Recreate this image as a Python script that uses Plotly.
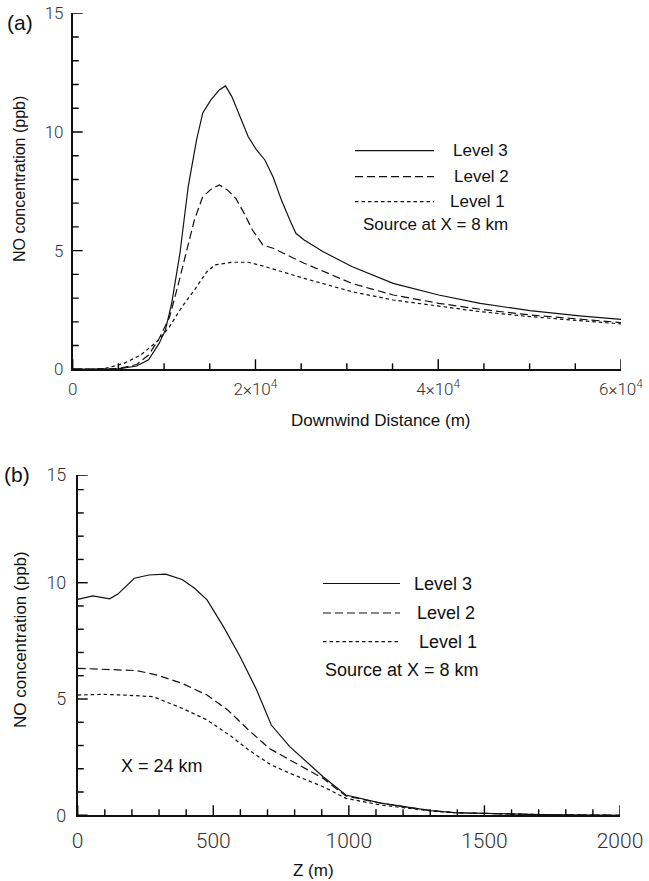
import plotly.graph_objects as go

# ---------------- Panel (a): NO concentration vs downwind distance ----------------
a_x_l3 = [0, 3000, 5000, 7000, 8300, 9470, 10150, 10830, 11740, 12640, 13550, 14230, 15130,
          16040, 16720, 17400, 18300, 19210, 20120, 21030, 21930, 22840, 23750, 24420, 25330,
          27370, 30540, 35070, 40050, 44590, 50030, 55470, 60000]
a_y_l3 = [0.0, 0.0, 0.02, 0.14, 0.4, 1.1, 1.66, 2.78, 4.9, 7.7, 9.66, 10.8, 11.35,
          11.77, 11.94, 11.5, 10.65, 9.8, 9.24, 8.82, 8.1, 7.13, 6.3, 5.73, 5.45,
          4.96, 4.33, 3.62, 3.13, 2.78, 2.47, 2.25, 2.1]

a_x_l2 = [0, 3000, 5000, 7000, 8300, 9470, 10600, 11500, 12400, 13320, 14230, 15130, 16040,
          16950, 17850, 18760, 19670, 20800, 21930, 25330, 30540, 35070, 40050, 44590,
          50030, 55470, 60000]
a_y_l2 = [0.0, 0.0, 0.03, 0.2, 0.6, 1.3, 2.2, 3.5, 4.9, 6.3, 7.27, 7.58, 7.77,
          7.55, 7.2, 6.57, 5.87, 5.24, 5.1, 4.47, 3.62, 3.13, 2.78, 2.53,
          2.29, 2.1, 1.97]

a_x_l1 = [0, 2000, 3580, 5620, 7430, 9240, 10600, 11970, 13320, 14680, 15580, 17400, 19210,
          21030, 25330, 30540, 35070, 40050, 44590, 50030, 55470, 60000]
a_y_l1 = [0.0, 0.0, 0.04, 0.25, 0.6, 1.17, 1.8, 2.64, 3.34, 4.11, 4.4, 4.51, 4.51,
          4.33, 3.83, 3.27, 2.92, 2.67, 2.43, 2.22, 2.04, 1.91]

a_xtick_vals = [0, 20000, 40000, 60000]
a_xtick_text = ["0", "2×10<sup>4</sup>", "4×10<sup>4</sup>", "6×10<sup>4</sup>"]
a_ytick_vals = [0, 5, 10, 15]
a_ytick_text = ["0", "5", "10", "15"]

# ---------------- Panel (b): NO concentration vs height ----------------
b_z_l3 = [0, 56, 118, 148, 209, 263, 324, 385, 431, 477, 538, 599, 660, 714, 782, 905,
          989, 1118, 1302, 1394, 1700, 2000]
b_y_l3 = [9.28, 9.43, 9.31, 9.51, 10.19, 10.33, 10.37, 10.14, 9.76, 9.26, 8.1, 6.82, 5.39,
          3.88, 2.95, 1.66, 0.87, 0.52, 0.2, 0.11, 0.03, 0.0]

b_z_l2 = [0, 95, 217, 293, 385, 477, 553, 630, 706, 782, 905, 989, 1118, 1302, 1394, 1700, 2000]
b_y_l2 = [6.32, 6.29, 6.22, 6.03, 5.67, 5.17, 4.53, 3.67, 2.88, 2.38, 1.59, 0.83, 0.52,
          0.2, 0.11, 0.03, 0.0]

b_z_l1 = [0, 95, 171, 278, 385, 477, 568, 630, 714, 782, 905, 989, 1118, 1302, 1394, 1700, 2000]
b_y_l1 = [5.17, 5.2, 5.17, 5.1, 4.6, 4.1, 3.38, 2.81, 2.16, 1.81, 1.23, 0.73, 0.44,
          0.19, 0.11, 0.03, 0.0]

b_xtick_vals = [0, 500, 1000, 1500, 2000]
b_xtick_text = ["0", "500", "1000", "1500", "2000"]
b_ytop = 14.63
b_ytick_vals = [0, 5, 10, b_ytop]
b_ytick_text = ["0", "5", "10", "15"]

series_names = ["Level 3", "Level 2", "Level 1"]

# minor tick steps
a_xminor, a_yminor, b_xminor, b_yminor = 5000, 1, 100, 1

# ---------------- figure ----------------
W, H = 649, 881
INK = "#111111"
dash_styles = ["solid", "8px,4px", "3.5px,3px"]

# plot-area geometry (pixels)
A_L, A_R, A_T, A_B = 72.7, 621, 13.3, 369.3
B_L, B_R, B_T, B_B = 77.7, 620, 475, 815.3

fig = go.Figure()
for xs, ys, name, d in [(a_x_l3, a_y_l3, series_names[0], dash_styles[0]),
                        (a_x_l2, a_y_l2, series_names[1], dash_styles[1]),
                        (a_x_l1, a_y_l1, series_names[2], dash_styles[2])]:
    fig.add_trace(go.Scatter(x=xs, y=ys, name=name, mode="lines",
                             line=dict(color=INK, width=1.2, dash=d),
                             xaxis="x", yaxis="y", cliponaxis=False))
for xs, ys, name, d in [(b_z_l3, b_y_l3, series_names[0], dash_styles[0]),
                        (b_z_l2, b_y_l2, series_names[1], dash_styles[1]),
                        (b_z_l1, b_y_l1, series_names[2], dash_styles[2])]:
    fig.add_trace(go.Scatter(x=xs, y=ys, name=name, mode="lines",
                             line=dict(color=INK, width=1.2, dash=d),
                             xaxis="x2", yaxis="y2", cliponaxis=False))

TICKFONT_A = dict(family="Roboto", size=17, color="#333", weight=300)
TICKFONT_B_Y = dict(family="Roboto", size=18, color="#333", weight=300)
TICKFONT_B_X = dict(family="Roboto", size=21, color="#333", weight=300)
LABFONT = "Liberation Sans, Arial, sans-serif"

def px(x):
    return x / W

def py(y):
    return 1 - y / H

common = dict(showline=True, linecolor=INK, linewidth=1.5, ticks="",
              showgrid=False, zeroline=False,
              tickmode="array", fixedrange=True, automargin=False)

fig.update_layout(
    template="none",
    width=W, height=H, showlegend=False, autosize=False,
    margin=dict(l=0, r=0, t=0, b=0, pad=0),
    paper_bgcolor="white", plot_bgcolor="white",
    xaxis=dict(domain=[px(A_L), px(A_R)], range=[0, 60000], anchor="y",
               tickvals=a_xtick_vals, ticktext=a_xtick_text, tickfont=TICKFONT_A,
               ticklabelstandoff=4, **common),
    yaxis=dict(domain=[py(A_B), py(A_T)], range=[0, 15], anchor="x",
               tickvals=a_ytick_vals, ticktext=a_ytick_text, tickfont=TICKFONT_A,
               ticklabelstandoff=4, **common),
    xaxis2=dict(domain=[px(B_L), px(B_R)], range=[0, 2000], anchor="y2",
                tickvals=b_xtick_vals, ticktext=b_xtick_text, tickfont=TICKFONT_B_X,
                ticklabelstandoff=6, **common),
    yaxis2=dict(domain=[py(B_B), py(B_T)], range=[0, b_ytop], anchor="x2",
                tickvals=b_ytick_vals, ticktext=b_ytick_text, tickfont=TICKFONT_B_Y,
                ticklabelstandoff=6, **common),
)

annotations = []
shapes = []
TICK_LINE = dict(color="black", width=1.4)

# ---- inward tick marks: data-scale position along the axis, paper-pixel length ----
def is_major(v, majors):
    return any(abs(v - m) < 1e-9 for m in majors)

def xticks(xref, majors, step, lo, hi, axis_px):
    n = int(round((hi - lo) / step))
    vals = [lo + i * step for i in range(n + 1)]
    vals += [m for m in majors if not is_major(m, vals)]
    for v in vals:
        ln = 10 if is_major(v, majors) else 6
        shapes.append(dict(type="line", xref=xref, yref="paper", x0=v, x1=v,
                           y0=py(axis_px), y1=py(axis_px - ln), line=TICK_LINE,
                           layer="above"))

def yticks(yref, majors, step, lo, hi, axis_px):
    n = int(round((hi - lo) / step))
    vals = [lo + i * step for i in range(n + 1)]
    vals += [m for m in majors if not is_major(m, vals)]
    for v in vals:
        ln = 10 if is_major(v, majors) else 6
        shapes.append(dict(type="line", xref="paper", yref=yref, x0=px(axis_px),
                           x1=px(axis_px + ln), y0=v, y1=v, line=TICK_LINE,
                           layer="above"))

xticks("x", a_xtick_vals, a_xminor, 0, 60000, A_B)
yticks("y", a_ytick_vals, a_yminor, 0, 15, A_L)
xticks("x2", b_xtick_vals, b_xminor, 0, 2000, B_B)
yticks("y2", b_ytick_vals, b_yminor, 0, 14, B_L)

def text(x, y, s, size, xanchor="left", angle=0, family=LABFONT):
    annotations.append(dict(x=px(x), y=py(y), xref="paper", yref="paper", text=s,
                            showarrow=False, xanchor=xanchor, yanchor="middle",
                            textangle=angle, font=dict(family=family, size=size, color=INK)))

def key(x0, x1, y, d):
    shapes.append(dict(type="line", xref="paper", yref="paper", x0=px(x0), x1=px(x1),
                       y0=py(y), y1=py(y), line=dict(color=INK, width=1.2, dash=d)))

# panel labels
text(5, 23, "(a)", 21)
text(2, 475, "(b)", 21)

# axis titles
text(20, 179, "NO concentration (ppb)", 16, xanchor="center", angle=-90)
text(20, 640, "NO concentration (ppb)", 17, xanchor="center", angle=-90)
text(381, 420, "Downwind Distance (m)", 17, xanchor="center")
text(313, 870, "Z (m)", 17, xanchor="center")

# legend panel (a)
for (yk, xt, nm, d) in [(150.7, 451, series_names[0], dash_styles[0]),
                        (176.7, 452, series_names[1], dash_styles[1]),
                        (201.7, 448, series_names[2], dash_styles[2])]:
    key(355, 434, yk, d)
    text(xt, yk, nm, 17)
text(361, 224, "Source at X = 8 km", 17)

# legend panel (b)
for (yk, xt, nm, d) in [(583.5, 412, series_names[0], dash_styles[0]),
                        (613, 415, series_names[1], dash_styles[1]),
                        (641.7, 417, series_names[2], dash_styles[2])]:
    key(323, 400, yk, d)
    text(xt, yk, nm, 18)
text(323, 670, "Source at X = 8 km", 18)
text(119, 766, "X = 24 km", 18)

fig.update_layout(annotations=annotations, shapes=shapes)
fig.write_html("out.html",
               config={"displayModeBar": False},
               post_script="document.body.style.margin='0px';"
                           "document.body.style.overflow='hidden';")
